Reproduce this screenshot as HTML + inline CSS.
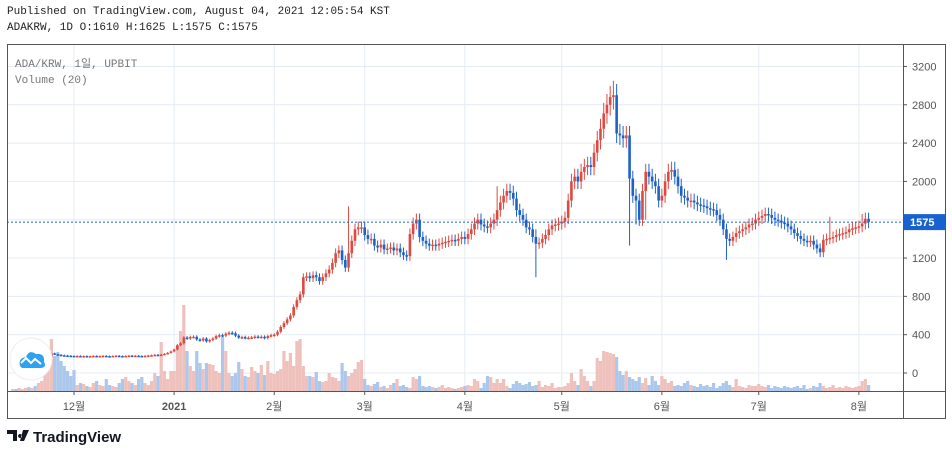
<!DOCTYPE html>
<html><head><meta charset="utf-8"><style>
body{margin:0;background:#fff;width:952px;height:455px;overflow:hidden;font-family:"Liberation Sans","Noto Sans CJK KR",sans-serif}
.hdr{position:absolute;left:7px;font-family:"Liberation Mono","Noto Sans CJK KR",monospace;font-size:11px;color:#222}
</style></head><body>
<div class="hdr" style="top:6px">Published on TradingView.com, August 04, 2021 12:05:54 KST</div>
<div class="hdr" style="top:22px">ADAKRW, 1D O:1610 H:1625 L:1575 C:1575</div>
<svg id="chart" width="952" height="455" style="position:absolute;left:0;top:0">
<g id="grid"></g><g id="vol"></g><g id="candles"></g><g id="axes"></g>
<text x="15" y="67" font-family="Liberation Mono,Noto Sans CJK KR,monospace" font-size="11" fill="#777">ADA/KRW, 1일, UPBIT</text>
<text x="15" y="83" font-family="Liberation Mono,monospace" font-size="11" fill="#777">Volume (20)</text>
<g><circle cx="31" cy="359" r="21" fill="#fff" stroke="#eee"/><path d="M20 366 q-2-8 6-9 q3-8 10-3 q9-1 8 8 q3 5-3 6 h-19 z" fill="#2ea1f0"/><path d="M21 363 l5-5 l5 5 l4-4 l6 5" fill="none" stroke="#fff" stroke-width="2"/></g>
<g><path d="M7 430 h10 v11 h-4 v-7 h-6z M20 434 a2 2 0 1 0 0.1 0z M23 430 h6 l-5 11 h-4z" fill="#131722"/><text x="33" y="442" font-size="15" font-weight="bold" fill="#131722">TradingView</text></g>
</svg>
<script>
const closes=[130,128,132,135,138,135,140,138,142,150,
160,175,205,195,190,185,182,180,178,176,
178,175,177,174,176,178,175,177,179,176,
175,178,180,177,176,178,181,179,180,178,
177,179,182,185,190,188,192,200,210,225,
245,290,310,370,360,375,378,350,340,360,
330,345,360,385,395,390,410,420,415,390,
370,375,365,368,372,380,375,378,365,385,
395,400,430,480,520,560,600,690,760,820,
1000,1010,990,1020,1000,960,1000,1040,1080,1150,
1250,1280,1180,1100,1250,1380,1500,1520,1520,1440,
1400,1400,1330,1310,1340,1290,1300,1310,1280,1300,
1260,1230,1220,1450,1560,1600,1420,1380,1350,1330,
1340,1330,1350,1360,1370,1380,1390,1380,1400,1420,
1400,1450,1500,1560,1600,1550,1530,1520,1560,1600,
1700,1780,1850,1900,1880,1820,1700,1650,1600,1520,
1500,1420,1350,1360,1400,1440,1500,1540,1550,1560,
1580,1620,1800,2000,2050,2000,2100,2150,2170,2150,
2300,2430,2550,2710,2800,2880,2900,2500,2480,2450,
2480,2030,1850,1800,1600,1900,2100,2050,2000,1950,
1800,1850,2000,2100,2120,2050,1950,1850,1830,1800,
1800,1780,1760,1750,1740,1720,1710,1700,1650,1600,
1500,1400,1380,1420,1460,1480,1500,1520,1550,1560,
1600,1620,1640,1660,1650,1620,1600,1590,1570,1560,
1530,1500,1460,1430,1400,1380,1370,1380,1340,1300,
1260,1390,1400,1410,1420,1440,1450,1460,1470,1500,
1510,1520,1530,1560,1610,1575];
const volumes=[2,2,3,2,3,4,3,5,8,10,
20,30,52,35,39,30,25,20,15,21,
6,8,7,5,4,8,10,6,5,12,
6,5,4,8,12,14,10,8,6,12,
14,8,6,10,18,15,49,20,12,20,
20,45,60,86,40,25,20,40,28,22,
28,27,26,20,18,54,40,18,15,18,
29,22,15,14,24,20,18,26,16,30,
18,17,20,22,40,30,38,25,50,52,
25,15,15,14,19,10,9,10,18,14,
13,10,28,20,15,18,22,29,31,12,
6,5,7,9,4,5,3,6,8,12,
5,6,4,3,14,12,15,5,4,5,
4,3,4,6,3,4,3,2,3,4,
5,6,5,12,10,3,8,15,14,8,
12,8,12,5,3,7,10,8,6,7,
9,5,6,10,4,6,5,8,3,4,
4,5,8,18,10,6,22,15,10,5,
10,33,30,40,39,38,37,34,20,16,
20,14,12,10,14,8,13,6,15,10,
6,15,12,8,10,5,6,5,8,10,
6,5,4,7,5,6,4,8,3,5,
8,10,6,4,12,5,4,3,6,5,
5,7,5,4,6,3,5,4,3,5,
4,3,4,5,3,6,2,3,5,4,
8,5,3,4,6,3,4,3,5,4,
3,4,5,10,12,6];
const spikeIdx=[104,162,185,186,191,193,221,253,263,196,150,243];
const spikeHigh=[1740,1500,2950,3050,2480,1850,1440,1630,1660,2150,1950,1450];
const spikeLow=[1100,1000,2700,2750,1330,1550,1180,1420,1500,1600,1600,1380];
const priceTicks=[0,400,800,1200,1600,2000,2400,2800,3200];
const monthLabels=["12월","2021","2월","3월","4월","5월","6월","7월","8월"];
const monthIdx=[19,50,81,109,140,170,201,231,262];
const lastPrice=1575;

const NS="http://www.w3.org/2000/svg";
const X0=7,X1=903,Y0=44,YB=391,Y1=418,XR=945;
const xS=i=>74+(i-19)*3.23;
const yS=p=>373-p*0.0958;
const vS=v=>YB-v;
function mk(parent,tag,attrs){const e=document.createElementNS(NS,tag);for(const k in attrs)e.setAttribute(k,attrs[k]);document.getElementById(parent).appendChild(e);return e;}
const RED="#dc4a42",BLUE="#1e62c8";
monthIdx.forEach((mi,k)=>{
 const l=mk('grid','line',{x1:xS(mi),x2:xS(mi),y1:Y0,y2:YB,stroke:'#e4ecf3'});
 
 
 const t=mk('axes','text',{x:xS(mi),y:410,'text-anchor':'middle','font-size':'11',fill:'#555','font-weight':k==1?'bold':'normal'});
 t.textContent=monthLabels[k];
 
 
 mk('axes','line',{x1:xS(mi),x2:xS(mi),y1:YB,y2:YB+4,stroke:'#555'});
});
priceTicks.forEach(p=>{
 const l=mk('grid','line',{x1:X0,x2:X1,y1:yS(p),y2:yS(p),stroke:'#e4ecf3'});
 
 
 mk('axes','line',{x1:X1,x2:X1+4,y1:yS(p),y2:yS(p),stroke:'#555'});
 const t=mk('axes','text',{x:912,y:yS(p)+4,'font-size':'11',fill:'#555'});
 t.textContent=p;
 
 
});
let prev=125;
closes.forEach((c,i)=>{
 const o=prev;prev=c;
 const up=c>=o;const col=up?RED:BLUE;
 let hi=Math.max(o,c)*1.04,lo=Math.min(o,c)*0.96;
 const s=spikeIdx.indexOf(i);
 if(s>=0){hi=Math.max(hi,spikeHigh[s]);lo=Math.min(lo,spikeLow[s]);}
 const x=xS(i);
 const vb=mk('vol','rect',{x:x-1.6,y:vS(volumes[i]),width:3.2,height:volumes[i],fill:up?'#efc1bc':'#abc8ec'});
 
 
 const w=mk('candles','line',{x1:x,x2:x,y1:yS(hi),y2:yS(lo),stroke:col,'stroke-width':1});
 
 
 const top=yS(Math.max(o,c)),h=Math.max(1.5,yS(Math.min(o,c))-top);
 const b=mk('candles','rect',{x:x-1.3,y:top,width:2.6,height:h,fill:col});
 
 
});
const lp=mk('axes','line',{x1:X0,x2:X1,y1:yS(lastPrice),y2:yS(lastPrice),stroke:'#1e62c8','stroke-dasharray':'2,2'});


const lb=mk('axes','rect',{x:X1,y:yS(lastPrice)-8,width:XR-X1,height:16,fill:'#1761d0'});


const lt=mk('axes','text',{x:910,y:yS(lastPrice)+4,'font-size':'11','font-weight':'bold',fill:'#fff'});
lt.textContent=lastPrice;


const fr=mk('axes','rect',{x:X0+0.5,y:Y0+0.5,width:XR-X0,height:Y1-Y0,fill:'none',stroke:'#555'});


const ps=mk('axes','line',{x1:X1+0.5,x2:X1+0.5,y1:Y0,y2:Y1,stroke:'#555'});


const ts=mk('axes','line',{x1:X0,x2:XR,y1:YB+0.5,y2:YB+0.5,stroke:'#555'});


</script>
</body></html>
